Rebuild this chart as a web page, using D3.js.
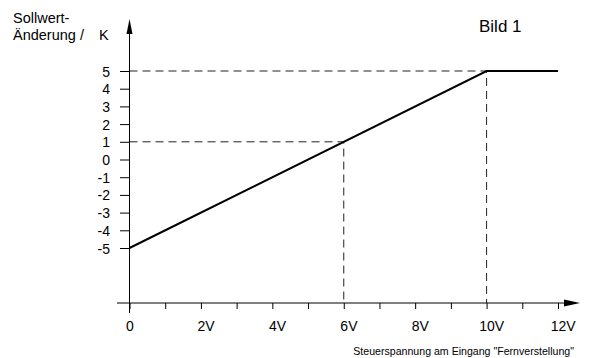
<!DOCTYPE html>
<html>
<head>
<meta charset="utf-8">
<script src="https://cdn.jsdelivr.net/npm/d3@7"></script>
<style>
  body { margin: 0; background: #fff; }
  text { font-family: "Liberation Sans", Arial, sans-serif; fill: #000; }
</style>
</head>
<body>
<div id="chart"></div>
<script>
// data
const voltages = [0, 10, 12];          // V
const changes = [-5, 5, 5];            // K
const xTicks = d3.range(0, 13);        // every volt, labels at even ones
const yTicks = [-5, -4, -3, -2, -1, 0, 1, 2, 3, 4, 5];
const guides = [{ v: 6, k: 1 }, { v: 10, k: 5 }];

const width = 589, height = 358;
const axisY = 303, axisX = 129.5;

const svg = d3.select("#chart").append("svg")
  .attr("width", width)
  .attr("height", height);

const x = d3.scaleLinear().domain([0, 12]).range([axisX, 558]);
const y = d3.scaleLinear().domain([-5, 5]).range([248, 71]);

// dashed guide lines
guides.forEach(g => {
  svg.append("path")
    .attr("d", `M${axisX},${y(g.k)}H${x(g.v)}V${axisY}`)
    .attr("fill", "none")
    .attr("stroke", "#222")
    .attr("stroke-width", 1)
    .attr("stroke-dasharray", "8,5");
});

// x axis
const xAxis = svg.append("g")
  .attr("transform", `translate(0,${axisY})`)
  .call(d3.axisBottom(x)
    .tickValues(xTicks)
    .tickSize(6)
    .tickPadding(12)
    .tickFormat(d => d % 2 ? "" : (d === 0 ? "0" : d + "V")));
xAxis.select(".domain").remove();
xAxis.selectAll("line").attr("stroke", "#000");
xAxis.selectAll("text")
  .attr("font-size", 14)
  .attr("text-anchor", "start")
  .each(function (d) {
    // centre the number on the tick, the unit hangs to the right
    const t = d3.select(this);
    const full = t.text();
    t.text(String(d));
    const w = this.getComputedTextLength();
    t.text(full);
    t.attr("x", -w / 2);
  });

// y axis (plain hyphen as minus, like the original)
const yAxis = svg.append("g")
  .attr("transform", `translate(${axisX},0)`)
  .call(d3.axisLeft(y)
    .tickValues(yTicks)
    .tickSize(9.5)
    .tickPadding(10)
    .tickFormat(d => String(d)));
yAxis.select(".domain").remove();
yAxis.selectAll("line").attr("stroke", "#000");
yAxis.selectAll("text").attr("font-size", 14).attr("dy", "0.36em");

// axis lines with arrows
svg.append("line")
  .attr("x1", 117).attr("x2", 567)
  .attr("y1", axisY).attr("y2", axisY)
  .attr("stroke", "#000");
svg.append("path")
  .attr("d", `M580,${axisY}L564,${axisY - 3.5}L564,${axisY + 3.5}Z`)
  .attr("fill", "#000");
svg.append("line")
  .attr("x1", axisX).attr("x2", axisX)
  .attr("y1", 313).attr("y2", 32)
  .attr("stroke", "#000");
svg.append("path")
  .attr("d", `M${axisX},19L${axisX - 3},34L${axisX + 3},34Z`)
  .attr("fill", "#000");

// characteristic curve
const line = d3.line()
  .x((d, i) => x(voltages[i]))
  .y(d => y(d));
svg.append("path")
  .datum(changes)
  .attr("d", line)
  .attr("fill", "none")
  .attr("stroke", "#000")
  .attr("stroke-width", 2);

// labels
svg.append("text").attr("x", 13).attr("y", 23).attr("font-size", 14.5).text("Sollwert-");
svg.append("text").attr("x", 13).attr("y", 40).attr("font-size", 14.5).text("Änderung /");
svg.append("text").attr("x", 99).attr("y", 40).attr("font-size", 14.5).text("K");
svg.append("text").attr("x", 479).attr("y", 32).attr("font-size", 17).text("Bild 1");
svg.append("text").attr("x", 574).attr("y", 355).attr("font-size", 10.6)
  .attr("text-anchor", "end")
  .text("Steuerspannung am Eingang \"Fernverstellung\"");
</script>
</body>
</html>
